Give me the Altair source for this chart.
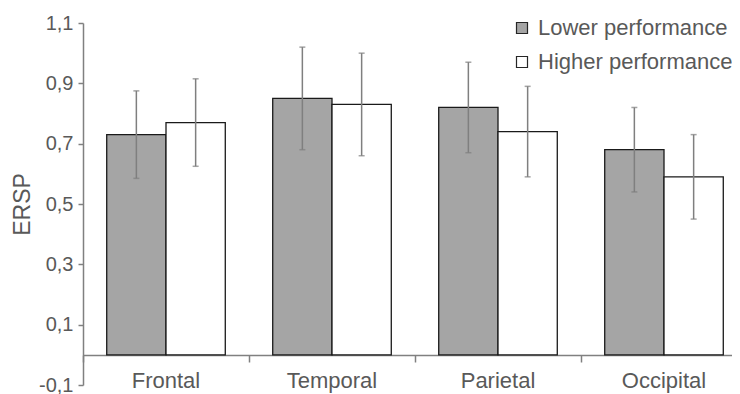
import altair as alt
import pandas as pd

regions = ["Frontal", "Temporal", "Parietal", "Occipital"]
groups = ["Lower performance", "Higher performance"]
lower_mean = [0.73, 0.85, 0.82, 0.68]
lower_err = [0.145, 0.17, 0.15, 0.14]
higher_mean = [0.77, 0.83, 0.74, 0.59]
higher_err = [0.145, 0.17, 0.15, 0.14]
y_ticks = [-0.1, 0.1, 0.3, 0.5, 0.7, 0.9, 1.1]

rows = []
for i, r in enumerate(regions):
    for g, m, e in ((groups[0], lower_mean[i], lower_err[i]), (groups[1], higher_mean[i], higher_err[i])):
        rows.append({"region": r, "group": g, "mean": m, "lo": m - e, "hi": m + e, "base": 0.0})
df = pd.DataFrame(rows)

FONT = "Liberation Sans"
TXT = "#595959"

x_axis = alt.Axis(
    title=None, orient="bottom", offset=-30, domain=True, domainColor="#808080",
    domainWidth=1.5, ticks=True, tickColor="#808080", tickSize=7, tickWidth=1.5,
    bandPosition=0, labelFontSize=22, labelColor=TXT, labelFont=FONT,
    labelPadding=8, labelAngle=0,
)
y_axis = alt.Axis(
    values=y_ticks, grid=False, domainColor="#808080", domainWidth=1.5,
    tickColor="#808080", tickSize=5, tickWidth=1.5,
    labelExpr="(datum.value < 0 ? '-' : '') + replace(format(abs(datum.value), '.1f'), '.', ',')",
    labelFontSize=20, labelColor=TXT, labelFont=FONT, labelPadding=5,
    title="ERSP", titleFontSize=23, titleFont=FONT, titleColor=TXT,
    titleFontWeight="normal", titleX=-54, titleY=181, titleAngle=270,
    titleAlign="center", titleBaseline="alphabetic",
)
x_scale = alt.Scale(paddingInner=0, paddingOuter=0, range=[0, 664])
y_scale = alt.Scale(domain=[-0.1, 1.1], nice=False, zero=False)


def xenc():
    return alt.X("region:N", sort=regions, scale=x_scale, axis=x_axis)


def xoff():
    return alt.XOffset("group:N", sort=groups, scale=alt.Scale(paddingInner=0, paddingOuter=0.4))


bars = alt.Chart(df).mark_bar(stroke="#1a1a1a", strokeWidth=1.3).encode(
    x=xenc(),
    xOffset=xoff(),
    y=alt.Y("mean:Q", scale=y_scale, axis=y_axis),
    y2="base:Q",
    fill=alt.Fill(
        "group:N",
        sort=groups,
        scale=alt.Scale(domain=groups, range=["#a5a5a5", "#ffffff"]),
        legend=alt.Legend(
            title=None, orient="none", legendX=428, legendY=-6,
            symbolType="square", symbolSize=121, symbolStrokeColor="#262626",
            symbolStrokeWidth=1.2, labelFontSize=22, labelFont=FONT,
            labelColor=TXT, labelOffset=5, rowPadding=12, padding=0,
            labelLimit=400,
        ),
    ),
)

rules = alt.Chart(df).mark_rule(color="#7f7f7f", strokeWidth=1.5).encode(
    x=xenc(), xOffset=xoff(),
    y=alt.Y("lo:Q", scale=y_scale, axis=y_axis), y2="hi:Q",
)
cap_lo = alt.Chart(df).mark_tick(color="#7f7f7f", thickness=1.5, size=6).encode(
    x=xenc(), xOffset=xoff(), y=alt.Y("lo:Q", scale=y_scale, axis=y_axis),
)
cap_hi = alt.Chart(df).mark_tick(color="#7f7f7f", thickness=1.5, size=6).encode(
    x=xenc(), xOffset=xoff(), y=alt.Y("hi:Q", scale=y_scale, axis=y_axis),
)

chart = alt.layer(bars, rules, cap_lo, cap_hi).properties(
    width=649, height=362,
    autosize=alt.AutoSizeParams(type="none"),
    padding={"left": 75, "top": 15, "right": 0, "bottom": 10},
).configure(font=FONT).configure_view(stroke=None)

chart.save("out.html", embed_options={"renderer": "svg", "actions": False})
